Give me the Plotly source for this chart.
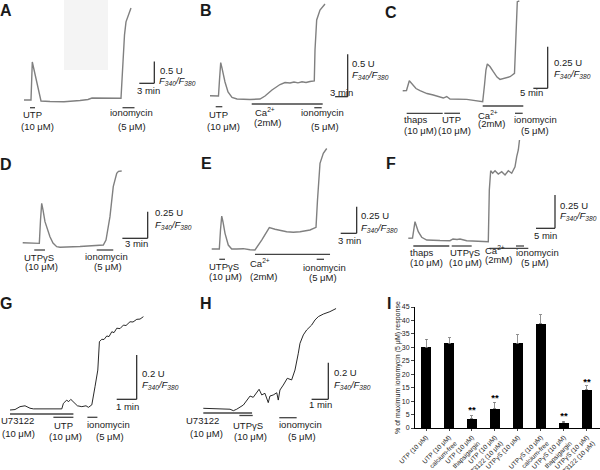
import plotly.graph_objects as go

W, H = 600, 470
FONT = "Liberation Sans, Arial, sans-serif"

# traces: time (min) vs change of the F340/F380 ratio (U) from baseline
A_T = [0, 1.4, 1.66, 3.4, 5.2, 8.0, 11.2, 12.8, 13.6, 16.2, 19.4, 19.6, 19.8, 20.1, 20.4, 20.9, 21.4]
A_R = [0, 0, 0.876, -0.023, -0.035, -0.041, -0.012, 0.012, 0.046, 0.046, 0.039, 0.46, 1.04, 1.50, 1.80, 1.98, 2.12]

B_T = [0, 2.02, 2.26, 2.55, 2.86, 3.57, 4.29, 5.24, 6.43, 9.52, 11.9, 13.1, 14.76, 16.67, 17.86,
       19.05, 20.0, 20.95, 21.9, 22.86, 23.8, 24.83, 25.0, 25.4, 26.19, 27.38]
B_R = [0, -0.004, 0.185, 0.39, 0.326, 0.162, 0.044, -0.021, -0.039, -0.045, -0.039, -0.004, 0.067, 0.132, 0.156,
       0.15, 0.162, 0.152, 0.164, 0.156, 0.168, 0.174, 0.54, 0.894, 1.012, 1.083]

C_T = [0, 1.32, 2.30, 3.24, 4.63, 6.03, 8.47, 10.66, 14.15, 15.33, 16.48, 22.3, 25.2, 27.87, 28.5, 29.0,
       29.48, 30.4, 31.57, 32.86, 33.9, 35.64, 37.39, 38.95, 39.3, 39.65, 39.93, 40.63]
C_R = [0, 0.001, 0.06, 0.043, 0.013, 0, -0.017, -0.026, -0.044, -0.035, -0.05, -0.052, -0.059, -0.066, 0.034, 0.124,
       0.16, 0.145, 0.114, 0.082, 0.068, 0.074, 0.084, 0.104, 0.304, 0.484, 0.534, 0.538]

D_T = [0, 1.97, 2.11, 2.25, 2.41, 2.64, 3.23, 3.59, 4.03, 4.42, 6.79, 9.55, 9.87, 10.34, 10.73, 11.14, 11.35, 11.73]
D_R = [0, -0.006, 0.213, 0.369, 0.306, 0.197, 0.056, -0.003, -0.037, -0.043, -0.036, -0.022, 0.025, 0.244, 0.525,
       0.65, 0.669, 0.672]

E_T = [0, 1.43, 1.65, 1.88, 2.12, 2.5, 3.11, 3.75, 4.69, 5.93, 7.19, 8.12, 9.38, 10.81, 11.88, 14.07, 15.31,
       16.57, 18.44, 19.57, 19.85, 20.13, 20.32, 20.94, 21.58]
E_R = [0, 0, 0.178, 0.309, 0.253, 0.147, 0.037, 0, 0, 0.003, -0.007, -0.009, 0.084, 0.2, 0.185, 0.162, 0.157,
       0.162, 0.178, 0.203, 0.459, 0.694, 0.803, 0.897, 0.942]

F_T = [0, 1.11, 1.76, 2.63, 3.53, 4.84, 8.34, 10.97, 11.76, 12.82, 13.61, 15.37, 18.34, 21.05, 21.32, 21.68,
       22.21, 22.82, 23.68, 24.58, 25.45, 26.32, 27.21, 28.08, 28.53, 28.95, 29.26]
F_R = [0, 0.002, 0.125, 0.05, 0.008, -0.013, -0.017, -0.018, -0.005, -0.009, -0.005, -0.018, -0.022, -0.026,
       0.363, 0.508, 0.489, 0.508, 0.483, 0.501, 0.476, 0.508, 0.489, 0.538, 0.614, 0.664, 0.739]

G_T = [0, 0.25, 0.5, 0.75, 1.0, 1.17, 2.59, 2.67, 2.84, 2.92, 3.04, 3.2, 3.37, 3.59, 3.8, 3.92, 4.09, 4.25, 4.39,
       4.47, 4.59, 4.7, 4.84, 4.95, 5.09, 5.2, 5.34, 5.5, 5.67, 5.8, 6.0, 6.15, 6.34, 6.5, 6.67]
G_R = [0, 0.002, 0.015, 0.019, 0.008, 0.005, 0.005, 0.03, 0.045, 0.037, 0.048, 0.033, 0.019, 0.015, 0.019, 0.012,
       0.023, 0.105, 0.18, 0.308, 0.319, 0.318, 0.334, 0.331, 0.353, 0.349, 0.369, 0.367, 0.383, 0.381, 0.398,
       0.397, 0.409, 0.41, 0.421]

H_T = [0, 0.7, 1.6, 1.8, 2.0, 2.4, 2.69, 2.8, 2.99, 3.2, 3.34, 3.5, 3.69, 3.89, 3.99, 4.19, 4.4, 4.49, 4.59,
       4.79, 5.03, 5.29, 5.49, 5.69, 5.79, 5.99, 6.19, 6.49, 6.69, 6.89, 7.19, 7.58, 7.95]
H_R = [0, -0.001, -0.005, -0.013, -0.005, 0.018, 0.055, 0.067, 0.06, 0.091, 0.104, 0.073, 0.082, 0.031, 0.067,
       0.073, 0.085, 0.045, 0.1, 0.127, 0.164, 0.155, 0.209, 0.301, 0.355, 0.401, 0.428, 0.455, 0.483, 0.501,
       0.515, 0.528, 0.545]

# drug applications, start/end in min
A_UTP, A_IONO = [1.2, 2.2], [19.7, 22.1]
B_UTP, B_CA, B_IONO = [1.36, 2.93], [9.93, 26.83], [24.83, 26.6]
C_THAPS, C_UTP, C_CA, C_IONO = [1.39, 13.94], [14.49, 19.97], [27.87, 42.02], [39.13, 41.81]
D_UTPGS, D_IONO = [1.37, 2.64], [8.77, 10.73]
E_UTPGS, E_CA, E_IONO = [1.43, 2.5], [8.12, 22.2], [19.7, 21.07]
F_THAPS, F_UTPGS, F_CA, F_IONO = [1.32, 10.79], [11.42, 16.68], [21.32, 31.58], [28.34, 30.45]
G_U73122, G_UTP, G_IONO = [0, 3.17], [2.17, 3.17], [3.87, 4.37]
H_U73122, H_UTPGS, H_IONO = [0, 2.92], [2.16, 2.96], [4.55, 5.59]

# summary panel I
I_LABELS = ["UTP (10 μM)", "UTP (10 μM)<br>calcium-free", "UTP (10 μM)<br>thapsigargin",
            "UTP (10 μM)<br>U73122 (10 μM)", "UTPγS (10 μM)", "UTPγS (10 μM)<br>calcium-free",
            "UTPγS (10 μM)<br>thapsigargin", "UTPγS (10 μM)<br>U73122 (10 μM)"]
I_MEAN = [30.0, 31.5, 3.4, 7.1, 31.5, 38.8, 2.0, 14.2]
I_ERR = [3.0, 2.1, 1.1, 2.4, 3.2, 3.3, 0.6, 1.5]
I_STAR = [None, None, 6.6, 11.0, None, None, 4.1, 16.9]

# layout of the trace panels (pixel positions)
PANELS = [
    dict(key="A", t=A_T, r=A_R, letter=(6, 11), box=(0, 200, 0, 160), origin=(24, 100), ppm=5.0, ppu=43.4,
         corner=(154.3, 83.3), scale=(3, 0.5), u_text=(158, 70), f_text=(157, 80.5), min_text=(148, 90.5),
         bars=[(A_UTP, 107.7), (A_IONO, 107.7)],
         labels=[("UTP", 32.5, 115, "center"), ("(10 μM)", 37, 126.5, "center"),
                 ("ionomycin", 131.7, 113, "center"), ("(5 μM)", 131.7, 126.5, "center")]),
    dict(key="B", t=B_T, r=B_R, letter=(206, 11), box=(200, 400, 0, 160), origin=(210, 95.7), ppm=4.2, ppu=84.7,
         corner=(347.7, 96.7), scale=(3, 0.5), u_text=(350, 63), f_text=(350, 75), min_text=(342, 92),
         bars=[(B_UTP, 106.7), (B_CA, 104), (B_IONO, 107.7)],
         labels=[("UTP", 218.7, 115, "center"), ("(10 μM)", 223.3, 126, "center"),
                 ("Ca<sup>2+</sup>", 252.7, 112, "left"), ("(2mM)", 252, 122.7, "left"),
                 ("ionomycin", 322.5, 113, "center"), ("(5 μM)", 325, 126.7, "center")]),
    dict(key="C", t=C_T, r=C_R, letter=(391, 12), box=(400, 600, 0, 160), origin=(402.7, 90.7), ppm=2.87,
         ppu=166.7, corner=(547.7, 88.3), scale=(5, 0.25), u_text=(551.7, 62.7), f_text=(551.7, 74),
         min_text=(531.7, 92.7),
         bars=[(C_THAPS, 113.3), (C_UTP, 113.3), (C_CA, 106), (C_IONO, 113.3)],
         labels=[("thaps", 401.7, 119.3, "left"), ("(10 μM)", 401.7, 130, "left"),
                 ("UTP", 451.7, 119.3, "center"), ("(10 μM)", 454, 130, "center"),
                 ("Ca<sup>2+</sup>", 476, 115, "left"), ("(2mM)", 476, 124, "left"),
                 ("ionomycin", 535.8, 119.3, "center"), ("(5 μM)", 535, 130.7, "center")]),
    dict(key="D", t=D_T, r=D_R, letter=(6, 164), box=(0, 200, 140, 300), origin=(22.7, 242.7), ppm=8.44,
         ppu=106.7, corner=(147.7, 238.3), scale=(3, 0.25), u_text=(153, 212.7), f_text=(152.7, 225),
         min_text=(136, 243),
         bars=[(D_UTPGS, 250), (D_IONO, 250)],
         labels=[("UTPγS", 39.5, 257.3, "center"), ("(10 μM)", 41.7, 266.7, "center"),
                 ("ionomycin", 106.7, 256.7, "center"), ("(5 μM)", 107.5, 266.7, "center")]),
    dict(key="E", t=E_T, r=E_R, letter=(206, 163), box=(200, 400, 140, 300), origin=(211.7, 249), ppm=5.33,
         ppu=106.7, corner=(356.7, 233.3), scale=(3, 0.25), u_text=(359.3, 215.7), f_text=(359.3, 228),
         min_text=(349.7, 240.5),
         bars=[(E_UTPGS, 259.3), (E_CA, 254.3), (E_IONO, 259.3)],
         labels=[("UTPγS", 224, 266.7, "center"), ("(10 μM)", 225, 276.7, "center"),
                 ("Ca<sup>2+</sup>", 248.3, 263.3, "left"), ("(2mM)", 248.3, 276, "left"),
                 ("ionomycin", 324, 267.3, "center"), ("(5 μM)", 322.5, 277.7, "center")]),
    dict(key="F", t=F_T, r=F_R, letter=(391, 163), box=(400, 600, 130, 300), origin=(408.3, 238.3), ppm=3.8,
         ppu=133, corner=(555, 228.3), scale=(5, 0.25), u_text=(558.3, 205), f_text=(558.3, 216),
         min_text=(545, 235),
         bars=[(F_THAPS, 246), (F_UTPGS, 246), (F_CA, 248.3), (F_IONO, 246)],
         labels=[("thaps", 408.3, 252.7, "left"), ("(10 μM)", 408.3, 262.7, "left"),
                 ("UTPγS", 465, 252.7, "center"), ("(10 μM)", 465, 262.7, "center"),
                 ("Ca<sup>2+</sup>", 483.3, 250, "left"), ("(2mM)", 483.3, 259.5, "left"),
                 ("ionomycin", 537.5, 252.7, "center"), ("(5 μM)", 535, 262.7, "center")]),
    dict(key="G", t=G_T, r=G_R, letter=(6, 303.5), box=(0, 200, 290, 470), origin=(10, 410), ppm=20, ppu=221.7,
         corner=(136.7, 399.3), scale=(1, 0.2), u_text=(140, 373.3), f_text=(140, 385), min_text=(127, 406),
         bars=[(G_U73122, 414), (G_UTP, 417.3), (G_IONO, 417.3)], black=True,
         labels=[("U73122", 17.5, 420.5, "center"), ("(10 μM)", 18.3, 433.3, "center"),
                 ("UTP", 63.7, 425, "center"), ("(10 μM)", 65.5, 436.7, "center"),
                 ("ionomycin", 108.7, 424.5, "center"), ("(5 μM)", 110, 436.3, "center")]),
    dict(key="H", t=H_T, r=H_R, letter=(206, 303.5), box=(200, 400, 290, 470), origin=(203.3, 408.3), ppm=16.7,
         ppu=183, corner=(328.3, 399.3), scale=(1, 0.2), u_text=(331.7, 372.7), f_text=(331.7, 385),
         min_text=(320, 404),
         bars=[(H_U73122, 413), (H_UTPGS, 415.5), (H_IONO, 417.7)], black=True,
         labels=[("U73122", 202.5, 420.5, "center"), ("(10 μM)", 206, 433.3, "center"),
                 ("UTPγS", 248.3, 425, "center"), ("(10 μM)", 250, 436.7, "center"),
                 ("ionomycin", 300.5, 424.5, "center"), ("(5 μM)", 301.7, 436.7, "center")]),
]


def px(x, y):
    """Pixel position -> paper coordinates."""
    return x / W, 1 - y / H


def note(fig, text, x, y, size=9.5, anchor="center", **kw):
    xp, yp = px(x, y)
    fig.add_annotation(text=text, x=xp, y=yp, xref="paper", yref="paper", showarrow=False,
                       xanchor=anchor, yanchor="middle", font=dict(family=FONT, size=size, color="#1a1a1a"), **kw)


def add_trace_panel(fig, n, p):
    """One calcium trace with its scale bar, drug bars and labels."""
    s = "" if n == 1 else str(n)
    x0, x1, y0, y1 = p["box"]
    ox, oy = p["origin"]
    ppm, ppu = p["ppm"], p["ppu"]
    fig.update_layout({
        f"xaxis{s}": dict(domain=[x0 / W, x1 / W], range=[(x0 - ox) / ppm, (x1 - ox) / ppm],
                          visible=False, anchor=f"y{s}", automargin=False),
        f"yaxis{s}": dict(domain=[1 - y1 / H, 1 - y0 / H], range=[(oy - y1) / ppu, (oy - y0) / ppu],
                          visible=False, anchor=f"x{s}", automargin=False),
    })
    black = p.get("black", False)
    fig.add_trace(go.Scatter(x=p["t"], y=p["r"], mode="lines", xaxis=f"x{s}", yaxis=f"y{s}",
                             line=dict(color="#111111" if black else "#808080", width=0.9 if black else 1.4),
                             hoverinfo="skip"))

    # scale bar
    cx, cy = (p["corner"][0] - ox) / ppm, (oy - p["corner"][1]) / ppu
    mins, units = p["scale"]
    for xa, ya, xb, yb in [(cx, cy, cx, cy + units), (cx - mins, cy, cx, cy)]:
        fig.add_shape(type="line", x0=xa, y0=ya, x1=xb, y1=yb, xref=f"x{s}", yref=f"y{s}",
                      line=dict(color="#222222", width=1.2))
    note(fig, f"{units} U", *p["u_text"], anchor="left")
    note(fig, "<i>F<sub>340</sub>/F<sub>380</sub></i>", *p["f_text"], anchor="left")
    note(fig, f"{mins} min", *p["min_text"])

    # drug applications
    for (t0, t1), ypx in p["bars"]:
        yp = 1 - ypx / H
        fig.add_shape(type="line", x0=t0, x1=t1, y0=yp, y1=yp, xref=f"x{s}", yref="paper",
                      line=dict(color="#444444", width=1.3))
    for text, x, y, anchor in p["labels"]:
        note(fig, text, x, y, anchor=anchor)
    note(fig, f"<b>{p['key']}</b>", *p["letter"], size=16)


def add_summary_panel(fig, n):
    """Bar chart of responses, % of ionomycin maximum."""
    s = str(n)
    pos = list(range(len(I_MEAN)))
    fig.add_trace(go.Bar(x=pos, y=I_MEAN, width=0.42, marker=dict(color="black", line=dict(width=0)),
                         error_y=dict(type="data", array=I_ERR, arrayminus=[0] * len(I_ERR),
                                      color="#777777", thickness=0.8, width=1.5),
                         xaxis=f"x{s}", yaxis=f"y{s}", hoverinfo="skip"))
    sx = [i for i, v in enumerate(I_STAR) if v is not None]
    sy = [v for v in I_STAR if v is not None]
    fig.add_trace(go.Scatter(x=sx, y=sy, mode="text", text=["<b>**</b>"] * len(sx),
                             textfont=dict(family=FONT, size=9.5, color="black"),
                             xaxis=f"x{s}", yaxis=f"y{s}", hoverinfo="skip"))
    fig.update_layout({
        f"xaxis{s}": dict(domain=[415 / W, 1.0], range=[-0.48, 7.57], anchor=f"y{s}", automargin=False,
                          tickmode="array", tickvals=pos, ticktext=I_LABELS, tickangle=-45,
                          tickfont=dict(family=FONT, size=6.5, color="#1a1a1a"),
                          showline=True, linecolor="black", linewidth=1, ticks="outside", ticklen=2,
                          showgrid=False, zeroline=False),
        f"yaxis{s}": dict(domain=[1 - 428 / H, 1 - 307 / H], range=[0, 45], anchor=f"x{s}", automargin=False,
                          tickmode="linear", tick0=0, dtick=5,
                          tickfont=dict(family=FONT, size=7, color="#1a1a1a"),
                          showline=True, linecolor="black", linewidth=1, ticks="outside", ticklen=3,
                          showgrid=False, zeroline=False),
    })
    note(fig, "% of maximum ionomycin (5 μM) response", 398, 368, size=7, textangle=-90)
    note(fig, "<b>I</b>", 389, 303.5, size=16)


fig = go.Figure()
for i, p in enumerate(PANELS, start=1):
    add_trace_panel(fig, i, p)
add_summary_panel(fig, 9)

# faint grey patch in panel A
x0, y0 = px(64, 0)
x1, y1 = px(108, 70)
fig.add_shape(type="rect", x0=x0, x1=x1, y0=y1, y1=y0, xref="paper", yref="paper",
              fillcolor="#f4f4f4", line=dict(width=0), layer="below")

fig.update_layout(width=W, height=H, margin=dict(l=0, r=0, t=0, b=0, autoexpand=False), showlegend=False,
                  plot_bgcolor="white", paper_bgcolor="white", bargap=0)

# the page's default body margin would shift the figure by 8px
fig.write_html("out.html", config={"displayModeBar": False},
               post_script="document.body.style.margin='0';document.body.style.overflow='hidden';")
